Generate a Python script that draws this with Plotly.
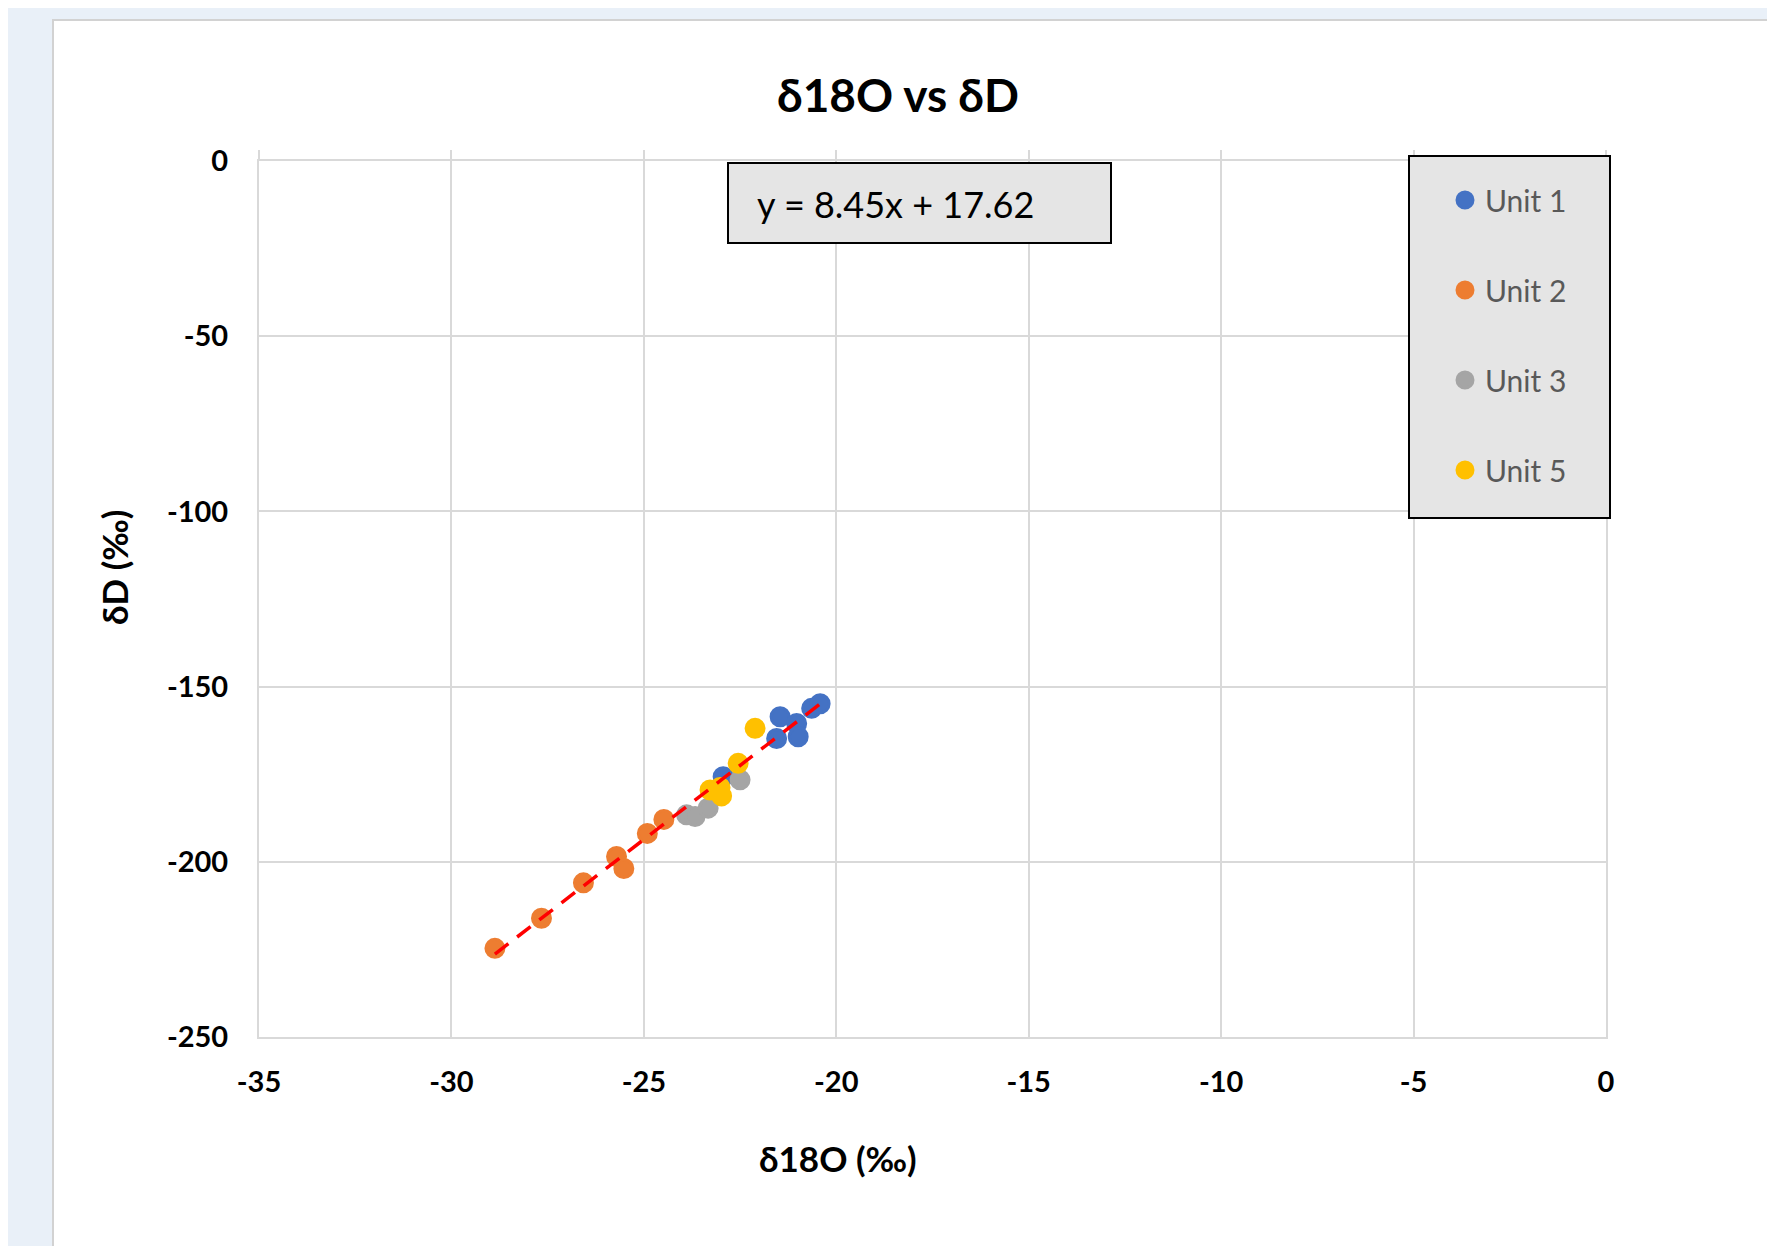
import plotly.graph_objects as go

# ---- data ----
unit1_x = [-22.94, -21.46, -21.55, -21.03, -20.99, -20.64, -20.42]
unit1_y = [-175.7, -158.6, -164.8, -160.5, -164.3, -156.2, -154.9]

unit2_x = [-28.87, -27.66, -26.57, -25.71, -25.52, -24.91, -24.48]
unit2_y = [-224.7, -216.1, -206.0, -198.5, -201.9, -191.9, -187.9]

unit3_x = [-23.89, -23.67, -23.33, -22.50]
unit3_y = [-186.6, -187.1, -184.7, -176.6]

unit5_x = [-22.11, -22.55, -23.28, -23.02, -22.98]
unit5_y = [-161.9, -171.9, -179.5, -178.8, -181.2]

series_names = ["Unit 1", "Unit 2", "Unit 3", "Unit 5"]
series_colors = ["#4472C4", "#ED7D31", "#A5A5A5", "#FFC000"]

trend_slope = 8.45
trend_intercept = 17.62
equation_text = "y = 8.45x + 17.62"

x_tickvals = [-35, -30, -25, -20, -15, -10, -5, 0]
x_ticktext = ["-35", "-30", "-25", "-20", "-15", "-10", "-5", "0"]
y_tickvals = [-250, -200, -150, -100, -50, 0]
y_ticktext = ["-250", "-200", "-150", "-100", "-50", "0"]

title_text = "δ18O vs δD"
x_title = "δ18O (‰)"
y_title = "δD (‰)"

# ---- figure geometry (page pixels; the page body has an 8px margin) ----
OFF = 8
W, H = 1775 - OFF, 1246 - OFF
PL, PR, PT, PB = 259 - OFF, 1606 - OFF, 161 - OFF, 1037 - OFF


def px(xp):
    return (xp - OFF - PL) / (PR - PL)


def py(yp):
    return (PB - (yp - OFF)) / (PB - PT)


FONT = "Lato, 'Open Sans', sans-serif"
GRID = "#d9d9d9"

fig = go.Figure()

xs = [unit1_x, unit2_x, unit3_x, unit5_x]
ys = [unit1_y, unit2_y, unit3_y, unit5_y]
for i, (name, col) in enumerate(zip(series_names, series_colors)):
    fig.add_trace(go.Scatter(
        x=xs[i], y=ys[i], mode="markers", name=name,
        legendgroup=name,
        marker=dict(color=col, size=18, line=dict(width=3, color=col)),
    ))

all_x = unit1_x + unit2_x + unit3_x + unit5_x
tx = [min(all_x), max(all_x)]
ty = [trend_slope * v + trend_intercept for v in tx]
fig.add_trace(go.Scatter(
    x=tx, y=ty, mode="lines", showlegend=False, xaxis="x2",
    line=dict(color="#FF0000", width=3.5, dash="17px,11px"),
    hoverinfo="skip",
))

shapes = [
    # white card
    dict(type="rect", xref="paper", yref="paper", layer="below",
         x0=px(53), x1=px(1900), y0=py(1400), y1=py(20),
         fillcolor="white", line=dict(color="#d2d2d2", width=2)),
    # equation box
    dict(type="rect", xref="paper", yref="paper", layer="above",
         x0=px(728), x1=px(1111), y0=py(243), y1=py(163),
         fillcolor="#e5e5e5", line=dict(color="black", width=2)),
    # legend box
    dict(type="rect", xref="paper", yref="paper", layer="above",
         x0=px(1409), x1=px(1610), y0=py(518), y1=py(156),
         fillcolor="#e5e5e5", line=dict(color="black", width=2)),
]

annotations = [
    dict(text=equation_text, xref="paper", yref="paper",
         x=px(755), y=py(204), xanchor="left", yanchor="middle",
         showarrow=False, font=dict(family=FONT, size=36, color="black")),
    dict(text="<b>" + x_title + "</b>", xref="paper", yref="paper",
         x=px(838), y=py(1158), xanchor="center", yanchor="middle",
         showarrow=False, font=dict(family=FONT, size=35, color="black")),
    dict(text="<b>" + y_title + "</b>", xref="paper", yref="paper",
         x=px(114), y=py(568), xanchor="center", yanchor="middle",
         textangle=-90,
         showarrow=False, font=dict(family=FONT, size=35, color="black")),
]

fig.update_layout(
    width=W, height=H,
    margin=dict(l=PL, r=W - PR, t=PT, b=H - PB, pad=0),
    paper_bgcolor="#e9f0f8",
    plot_bgcolor="white",
    title=dict(text="<b>" + title_text + "</b>", x=px(898), xref="paper",
               y=1 - (96 - OFF) / H, yref="container",
               xanchor="center", yanchor="middle",
               font=dict(family=FONT, size=46, color="black")),
    xaxis=dict(range=[-35, 0], tickvals=x_tickvals, ticktext=x_ticktext,
               showgrid=True, gridcolor=GRID, gridwidth=2,
               zeroline=False, showline=True, linecolor=GRID, linewidth=2,
               mirror=True, ticks="", ticklabelstandoff=18,
               tickfont=dict(family=FONT, size=29, color="black", weight="bold")),
    xaxis2=dict(range=[-35, 0], overlaying="x", side="top",
                tickvals=x_tickvals, showticklabels=False, showgrid=False,
                zeroline=False, showline=False, ticks="outside", ticklen=10,
                tickwidth=2, tickcolor=GRID),
    yaxis=dict(range=[-250, 0], tickvals=y_tickvals, ticktext=y_ticktext,
               showgrid=True, gridcolor=GRID, gridwidth=2,
               zeroline=False, showline=True, linecolor=GRID, linewidth=2,
               mirror=True, ticks="", ticklabelstandoff=23,
               tickfont=dict(family=FONT, size=29, color="black", weight="bold")),
    legend=dict(x=px(1445), y=py(174), xanchor="left", yanchor="top",
                bgcolor="rgba(0,0,0,0)", borderwidth=0,
                tracegroupgap=48, itemwidth=30,
                font=dict(family=FONT, size=30, color="#595959")),
    shapes=shapes,
    annotations=annotations,
)

fig.write_html("out.html")
